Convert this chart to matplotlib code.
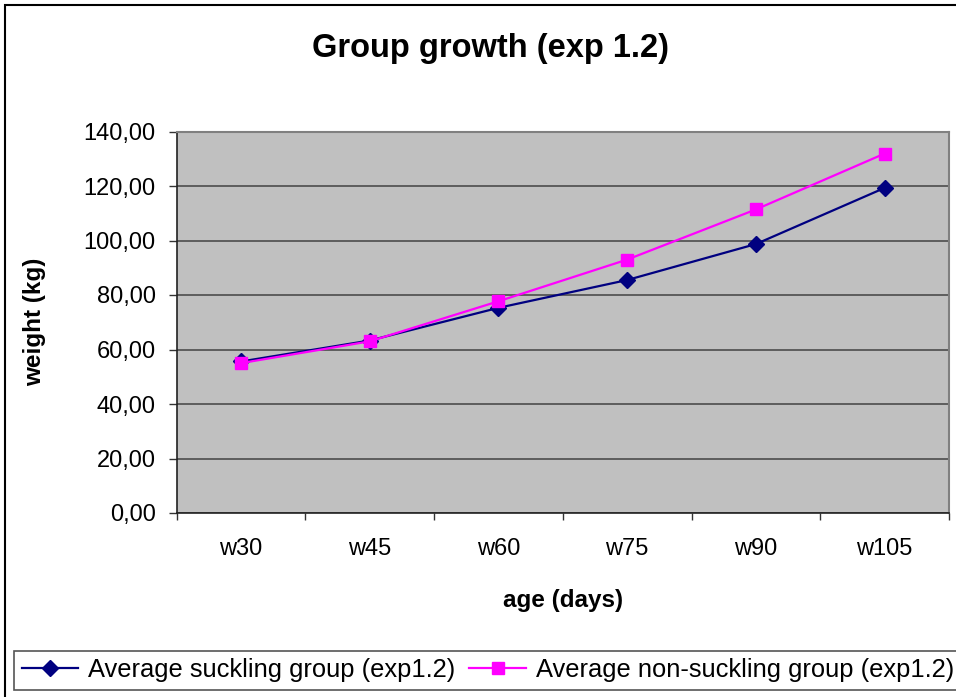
import numpy as np
import matplotlib
matplotlib.use("Agg")
import matplotlib.pyplot as plt
from matplotlib.patches import Rectangle
from matplotlib.ticker import FuncFormatter

plt.rcParams['font.family'] = ['Liberation Sans', 'DejaVu Sans']

# weekly group weights (kg)
ages = ['w30', 'w45', 'w60', 'w75', 'w90', 'w105']
suckling = [55.6, 63.3, 75.3, 85.5, 98.7, 119.3]
non_suckling = [55.0, 63.0, 77.7, 93.0, 111.4, 131.9]

W, H = 956, 697
fig = plt.figure(figsize=(W / 100, H / 100), dpi=100)

# frame round the whole chart
fig.patches.append(Rectangle((5 / W, -0.1), 1.2, 1 - 5 / H + 0.1, transform=fig.transFigure,
                             fill=False, edgecolor='black', linewidth=1.5))

ax = fig.add_axes([176.7 / W, 1 - 513 / H, (949 - 176.7) / W, (513 - 131.5) / H])
ax.set_facecolor('#c0c0c0')

x = np.arange(len(ages))
ax.plot(x, suckling, color='#000080', linewidth=1.6, marker='D', markersize=8.5,
        label='Average suckling group (exp1.2)', zorder=3)
ax.plot(x, non_suckling, color='#ff00ff', linewidth=1.6, marker='s', markersize=8,
        label='Average non-suckling group (exp1.2)', zorder=4)

ax.set_xlim(-0.5, len(ages) - 0.5)
ax.set_ylim(0, 140)
ax.set_yticks(np.arange(0, 141, 20))
ax.yaxis.set_major_formatter(FuncFormatter(lambda v, p: f'{v:.2f}'.replace('.', ',')))
ax.grid(axis='y', color='#555555', linewidth=1.3)
ax.set_axisbelow(True)

# category boundaries carry the tick marks, labels sit in the middle
ax.set_xticks(np.arange(-0.5, len(ages), 1.0))
ax.set_xticklabels([])
ax.set_xticks(x, minor=True)
ax.set_xticklabels(ages, minor=True)
ax.tick_params(axis='x', which='major', direction='out', length=5, width=1, color='#333333')
ax.tick_params(axis='x', which='minor', length=0, pad=18, labelsize=17)
ax.tick_params(axis='y', direction='out', length=6, width=1, color='#333333', pad=9, labelsize=17)

for side in ['top', 'right']:
    ax.spines[side].set_color('#808080')
    ax.spines[side].set_linewidth(1.5)
for side in ['left', 'bottom']:
    ax.spines[side].set_color('#222222')
    ax.spines[side].set_linewidth(1.2)

fig.text(491 / W, 1 - 49 / H, 'Group growth (exp 1.2)', ha='center', va='center',
         fontsize=23.5, fontweight='bold')
fig.text(35 / W, 1 - 322 / H, 'weight (kg)', ha='center', va='center', rotation=90,
         fontsize=17.5, fontweight='bold')
fig.text(562.8 / W, 1 - 600 / H, 'age (days)', ha='center', va='center',
         fontsize=17.5, fontweight='bold')

leg = fig.legend(loc='lower left', bbox_to_anchor=(14 / W, 7 / H), ncol=2, fontsize=18.4,
                 frameon=True, fancybox=False, edgecolor='#555555', framealpha=1,
                 handlelength=2.2, handletextpad=0.4, columnspacing=0.55,
                 borderpad=0.3, borderaxespad=0)
leg.get_frame().set_linewidth(1.2)

fig.savefig('out.png', dpi=100)
